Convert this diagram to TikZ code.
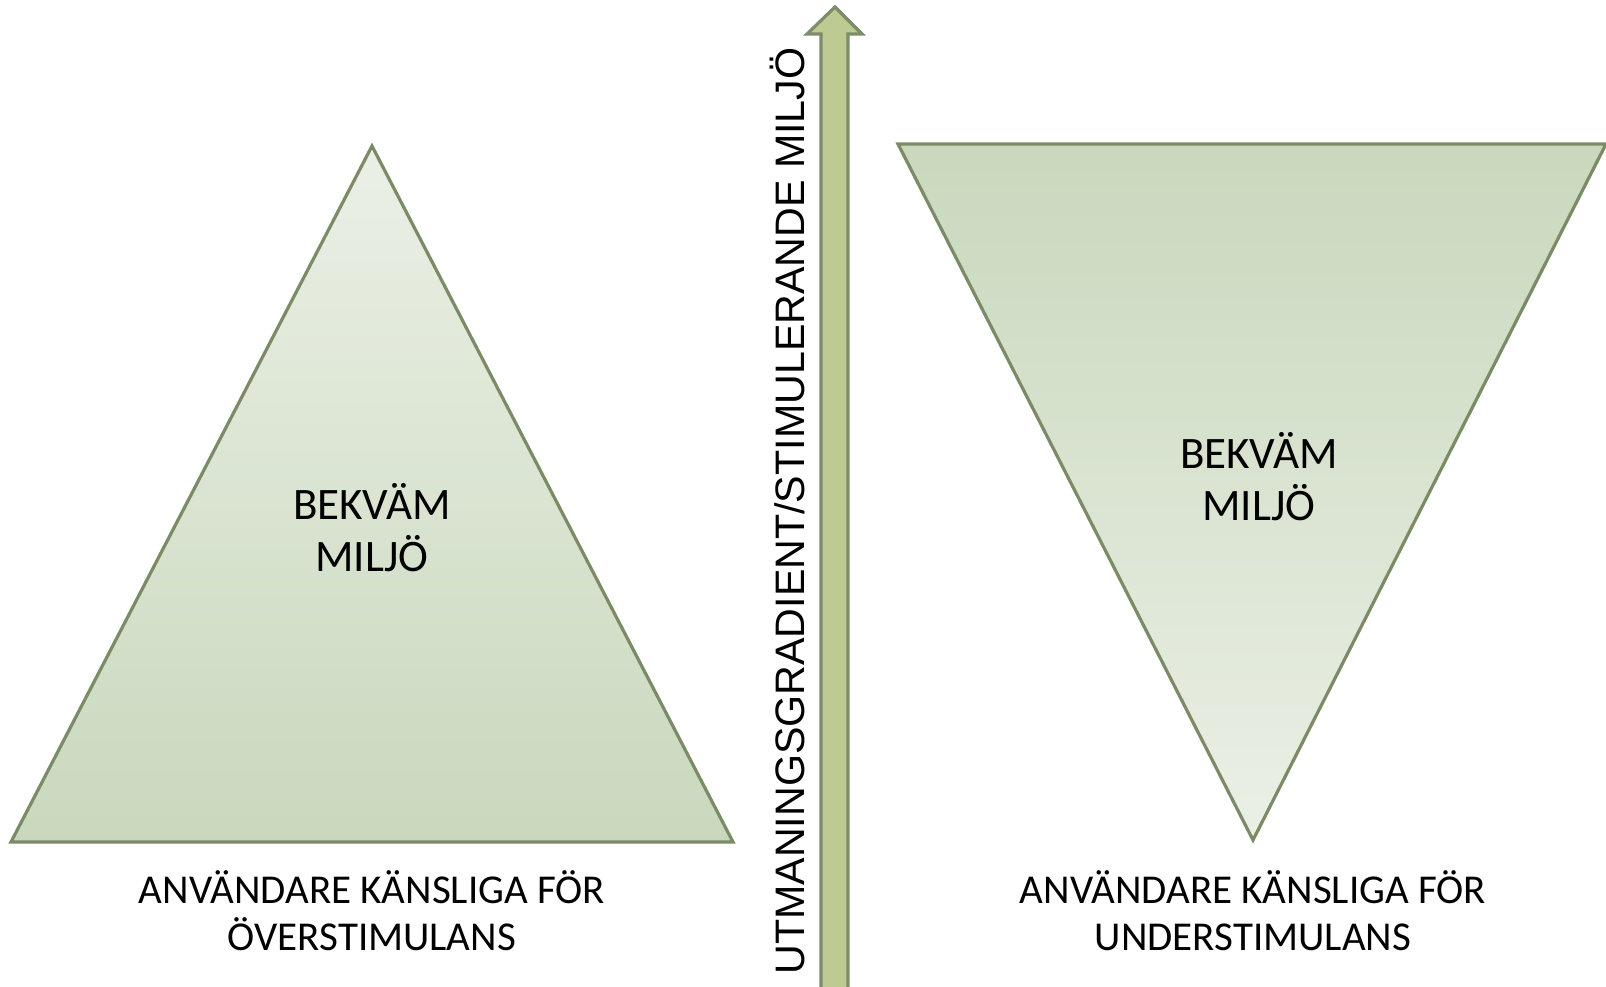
\documentclass[tikz,border=0pt]{standalone}
\usepackage{fontspec}
\setmainfont{Carlito}
\setsansfont{Liberation Sans}
\usetikzlibrary{positioning}

\definecolor{triline}{HTML}{7A8B66}
\definecolor{trilight}{HTML}{EBF0E6}
\definecolor{tridark}{HTML}{C9D8BD}
\definecolor{arrowfill}{HTML}{BDCA92}
\definecolor{arrowline}{HTML}{7D8C6A}

\begin{document}
\begin{tikzpicture}[
  x=0.5pt, y=-0.5pt,
  every node/.style={align=center, inner sep=0pt},
  triangle/.style={draw=triline, line width=1.6pt, line join=miter},
  comfort/.style={font=\fontsize{22.5}{26}\selectfont},
  users/.style={font=\fontsize{20.5}{23.5}\selectfont},
  gradient/.style={font=\sffamily\fontsize{20.6}{24}\selectfont, rotate=90}
]
\useasboundingbox (0,0) rectangle (1606,986);
\clip (0,0) rectangle (1606,986);

% left triangle (pointing up)
\shade[triangle, top color=trilight, bottom color=tridark]
  (372,146) -- (733,842) -- (11,842) -- cycle;
% right triangle (pointing down)
\shade[triangle, top color=tridark, bottom color=trilight]
  (898,144) -- (1606,144) -- (1253,840) -- cycle;

% upward arrow
\filldraw[fill=arrowfill, draw=arrowline, line width=1.6pt]
  (821,995) -- (821,34) -- (807,34) -- (835,7) -- (862,34) -- (848,34) -- (848,995) -- cycle;

\node[comfort] (comfortL) at (372,528) {BEKVÄM\\MILJÖ};
\node[comfort] (comfortR) at (1259,477) {BEKVÄM\\MILJÖ};

\node[users] (usersL) at (372,911) {ANVÄNDARE KÄNSLIGA FÖR\\ÖVERSTIMULANS};
\node[users] (usersR) at (1253,911) {ANVÄNDARE KÄNSLIGA FÖR\\UNDERSTIMULANS};

\node[gradient] (axis) at (787,511) {UTMANINGSGRADIENT/STIMULERANDE MILJÖ};

\end{tikzpicture}
\end{document}
